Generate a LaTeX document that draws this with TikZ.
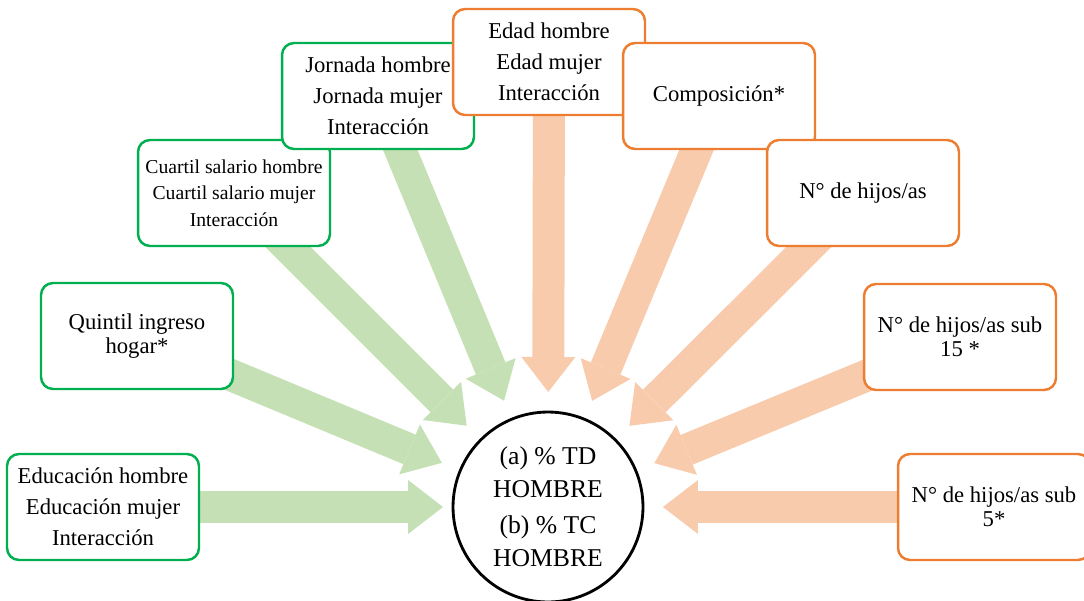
\documentclass[tikz,border=0pt]{standalone}
\usepackage{fontspec}
\setmainfont{Liberation Serif}
\usetikzlibrary{arrows.meta, calc, backgrounds}

\definecolor{boxgreen}{HTML}{00B050}
\definecolor{boxorange}{HTML}{ED7D31}
\definecolor{arrgreen}{HTML}{C5E0B4}
\definecolor{arrorange}{HTML}{F8CBAD}

\begin{document}
\begin{tikzpicture}[
    x=0.02cm, y=-0.02cm,
    box/.style={draw, line width=1.4pt, rounded corners=0.24cm, fill=white,
      minimum width=3.84cm, minimum height=2.12cm, align=center, inner sep=1pt,
      font=\fontsize{12.9}{13.6}\selectfont},
    gbox/.style={box, draw=boxgreen},
    obox/.style={box, draw=boxorange},
    fat/.style={line width=0.64cm,
      -{Triangle[length=0.7cm, width=1.08cm, line width=0pt]}},
    garrow/.style={fat, color=arrgreen},
    oarrow/.style={fat, color=arrorange}
  ]
  \useasboundingbox (0,0) rectangle (1084,601);

  % Result
  \node[circle, draw, line width=1.6pt, minimum size=3.8cm, inner sep=0pt,
    align=center, font=\fontsize{14.6}{18.8}\selectfont] (res) at (548,507)
    {(a) \% TD\\HOMBRE\\[1.7pt](b) \% TC\\HOMBRE};

  % Green boxes
  \node[gbox] (edu) at (103,507)
    {Educación hombre\\[4pt]Educación mujer\\[4pt]Interacción};
  \node[gbox] (quint) at (137,336) {Quintil ingreso\\hogar*};
  \node[gbox, font=\fontsize{11.2}{15}\selectfont] (cuart) at (234,193)
    {Cuartil salario hombre\\Cuartil salario mujer\\Interacción};
  \node[gbox] (jorn) at (378,96)
    {Jornada hombre\\[4pt]Jornada mujer\\[4pt]Interacción};

  % Orange boxes
  \node[obox] (edad) at (549,62)
    {Edad hombre\\[4pt]Edad mujer\\[4pt]Interacción};
  \node[obox] (comp) at (719,96) {Composición*};
  \node[obox] (hijos) at (863,193) {N° de hijos/as};
  \node[obox] (subq) at (960,337) {N° de hijos/as sub\\15 *};
  \node[obox] (subc) at (994,507) {N° de hijos/as sub\\5*};

  % Arrows
  \begin{scope}[on background layer]
    \draw[garrow] (edu.center) -- ($(res.center)!2.1cm!(edu.center)$);
    \draw[garrow] (quint.center) -- ($(res.center)!2.3cm!(quint.center)$);
    \draw[garrow] (cuart.center) -- ($(res.center)!2.3cm!(cuart.center)$);
    \draw[garrow] (jorn.center) -- ($(res.center)!2.3cm!(jorn.center)$);
    \draw[oarrow] (edad.center) -- ($(res.center)!2.3cm!(edad.center)$);
    \draw[oarrow] (comp.center) -- ($(res.center)!2.3cm!(comp.center)$);
    \draw[oarrow] (hijos.center) -- ($(res.center)!2.3cm!(hijos.center)$);
    \draw[oarrow] (subq.center) -- ($(res.center)!2.3cm!(subq.center)$);
    \draw[oarrow] (subc.center) -- ($(res.center)!2.3cm!(subc.center)$);
  \end{scope}
\end{tikzpicture}
\end{document}
